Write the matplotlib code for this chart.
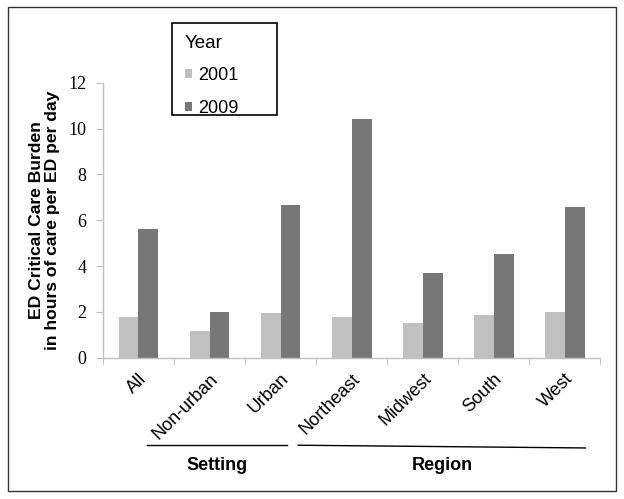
import matplotlib
matplotlib.use("Agg")
import matplotlib.pyplot as plt
from matplotlib.patches import Rectangle
from matplotlib.lines import Line2D
import matplotlib.transforms as mtransforms
import numpy as np

categories = ["All", "Non-urban", "Urban", "Northeast", "Midwest", "South", "West"]
values_2001 = [1.80, 1.17, 1.97, 1.80, 1.50, 1.87, 1.99]
values_2009 = [5.60, 2.00, 6.66, 10.42, 3.69, 4.54, 6.58]
series_names = ["2001", "2009"]
groups = [("Setting", 1, 2), ("Region", 3, 6)]
yticks = [0, 2, 4, 6, 8, 10, 12]

c2001 = "#c0c0c0"
c2009 = "#777777"

fig = plt.figure(figsize=(6.24, 4.99), dpi=100)
ax = fig.add_axes([0.165, 0.283, 0.797, 0.551])

x = np.arange(len(categories))
w = 0.28
ax.bar(x - w / 2, values_2001, w, color=c2001, label=series_names[0])
ax.bar(x + w / 2, values_2009, w, color=c2009, label=series_names[1])

ax.set_xlim(-0.5, len(categories) - 0.5)
ax.set_ylim(0, 12)
ax.set_yticks(yticks)
ax.set_yticklabels([str(t) for t in yticks], fontfamily="Liberation Serif", fontsize=13)

ax.set_xticks(x)
ax.set_xticklabels(categories, rotation=45, ha="right", va="top",
                   rotation_mode="anchor", fontfamily="Liberation Sans", fontsize=13)
offset = mtransforms.ScaledTranslation(-7 / 100, 2 / 100, fig.dpi_scale_trans)
for lbl in ax.get_xticklabels():
    lbl.set_transform(lbl.get_transform() + offset)
ax.tick_params(axis="x", which="major", length=0, pad=9)
ax.set_xticks(np.arange(-0.5, len(categories)), minor=True)
ax.tick_params(axis="x", which="minor", length=5, color="#bfbfbf", direction="out")
ax.tick_params(axis="y", length=5, color="#bfbfbf", pad=7)

for s in ["top", "right"]:
    ax.spines[s].set_visible(False)
for s in ["left", "bottom"]:
    ax.spines[s].set_color("#bfbfbf")
    ax.spines[s].set_linewidth(1.0)

ax.set_ylabel("ED Critical Care Burden\nin hours of care per ED per day",
              fontfamily="Liberation Sans", fontweight="bold", fontsize=12.6,
              linespacing=1.1, labelpad=6)

trans = mtransforms.blended_transform_factory(ax.transData, ax.transAxes)
# group lines
line_specs = {"Setting": (-0.88, 0.09, -0.316, -0.316), "Region": (-0.75, 0.29, -0.318, -0.328)}
for name, i0, i1 in groups:
    dl, dr, y0, y1 = line_specs[name]
    ax.add_line(Line2D([i0 + dl, i1 + dr], [y0, y1], transform=trans,
                       color="black", lw=1.0, clip_on=False))
    ax.text((i0 + dl + i1 + dr) / 2, -0.39, name, transform=trans,
            ha="center", va="center", fontfamily="Liberation Sans",
            fontweight="bold", fontsize=13)

leg = ax.legend(title="Year", loc="upper left", bbox_to_anchor=(185 / 624, 1 - 35 / 499),
                bbox_transform=fig.transFigure, prop={"family": "Liberation Sans", "size": 13},
                title_fontproperties={"family": "Liberation Sans", "size": 13.5},
                frameon=False, handlelength=0.4, handleheight=0.4, handletextpad=0.3,
                labelspacing=0.85, borderpad=0, borderaxespad=0, alignment="left")

fig.patches.append(Rectangle((172 / 624, 1 - 115 / 499), 105 / 624, 92 / 499,
                             transform=fig.transFigure, fill=False,
                             edgecolor="black", linewidth=1.2))

fig.patches.append(Rectangle((8 / 624, 1 - 491 / 499), 608 / 624, 484 / 499,
                             transform=fig.transFigure, fill=False,
                             edgecolor="#333333", linewidth=1.0))

fig.savefig("out.png", dpi=100)
